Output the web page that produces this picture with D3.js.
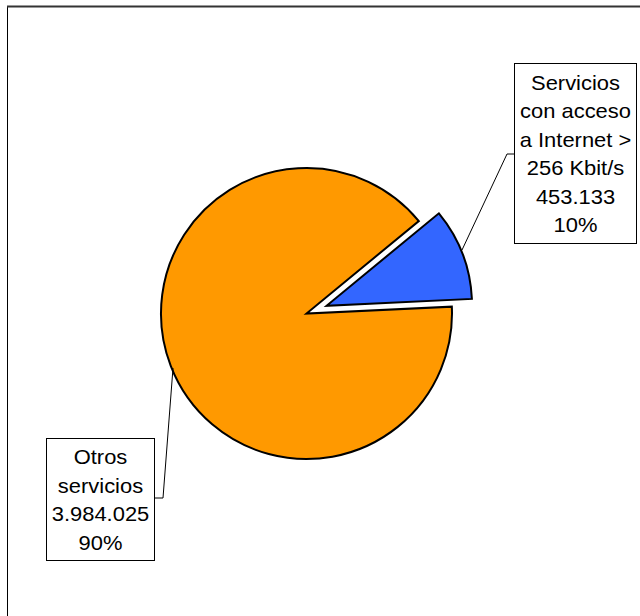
<!DOCTYPE html>
<html>
<head>
<meta charset="utf-8">
<script src="https://cdn.jsdelivr.net/npm/d3@7"></script>
<style>
  html, body { margin: 0; padding: 0; background: #fff; }
  svg { display: block; }
</style>
</head>
<body>
<svg id="chart" width="640" height="616"></svg>
<script>
// ---- data ----
const categories = ["Otros servicios", "Servicios con acceso a Internet > 256 Kbit/s"];
const values = [3984025, 453133];
const labelLines = [
  ["Otros", "servicios"],
  ["Servicios", "con acceso", "a Internet >", "256 Kbit/s"]
];
const colors = ["#FF9900", "#3366FF"];

// ---- layout ----
const W = 640, H = 616;
const cx = 306.5, cy = 313.5, R = 145.5;
const explode = [0, 21.5];
const startDeg = 87.3;
const boxes = [
  { x: 46, y: 438, w: 108, h: 122, leader: [[154, 498], [163, 498], [173, 368]] },
  { x: 514, y: 63, w: 122, h: 180, leader: [[514, 154], [507, 154], [462, 250]] }
];
const fontSize = 20.5, stretchX = 1.07, lineH = 28.5;

const svg = d3.select("#chart");

// frame
svg.append("rect").attr("x", 7.5).attr("y", 6.5).attr("width", 640).attr("height", 620)
  .attr("fill", "none").attr("stroke", "#000").attr("stroke-width", 1);
svg.append("line").attr("x1", 7).attr("x2", 640).attr("y1", 6.5).attr("y2", 6.5)
  .attr("stroke", "#333").attr("stroke-width", 2);

const locale = d3.formatLocale({ decimal: ",", thousands: ".", grouping: [3], currency: ["", "€"] });
const fmtNum = locale.format(",d");
const total = d3.sum(values);

const pie = d3.pie().sort(null).value(d => d)
  .startAngle(startDeg * Math.PI / 180)
  .endAngle(startDeg * Math.PI / 180 + 2 * Math.PI);
const arcs = pie(values);
const arc = d3.arc().innerRadius(0).outerRadius(R);

const g = svg.append("g").attr("transform", `translate(${cx},${cy})`);
g.selectAll("path").data(arcs).enter().append("path")
  .attr("d", arc)
  .attr("transform", (d, i) => {
    const a = (d.startAngle + d.endAngle) / 2;
    return `translate(${explode[i] * Math.sin(a)},${-explode[i] * Math.cos(a)})`;
  })
  .attr("fill", (d, i) => colors[i])
  .attr("stroke", "#000").attr("stroke-width", 2).attr("stroke-linejoin", "miter");

// leader lines
boxes.forEach(b => {
  svg.append("polyline").attr("points", b.leader.map(p => p.join(",")).join(" "))
    .attr("fill", "none").attr("stroke", "#000").attr("stroke-width", 1);
});

// label boxes
arcs.forEach((d, i) => {
  const b = boxes[i];
  svg.append("rect").attr("x", b.x + 0.5).attr("y", b.y + 0.5).attr("width", b.w).attr("height", b.h)
    .attr("fill", "#fff").attr("stroke", "#000").attr("stroke-width", 1);
  const lines = labelLines[i].concat([fmtNum(values[i]), Math.round(values[i] / total * 100) + "%"]);
  const midY = b.y + b.h / 2 + 8;
  const y0 = midY - (lines.length - 1) * lineH / 2;
  const t = svg.append("text").attr("text-anchor", "middle")
    .attr("transform", `translate(${b.x + b.w / 2 + 0.5},0) scale(${stretchX},1)`)
    .attr("font-family", "Liberation Sans, Arial, sans-serif").attr("font-size", fontSize)
    .attr("fill", "#000");
  lines.forEach((ln, k) => {
    t.append("tspan").attr("x", 0).attr("y", y0 + k * lineH).text(ln);
  });
});
</script>
</body>
</html>
